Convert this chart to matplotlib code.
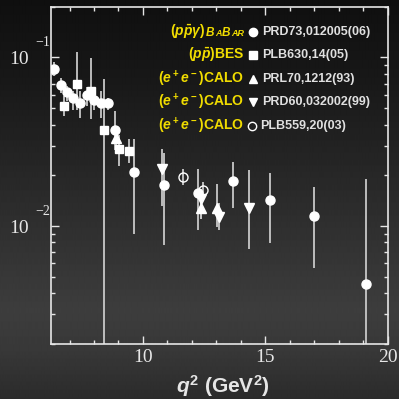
import numpy as np
import matplotlib.pyplot as plt
from matplotlib.offsetbox import TextArea, HPacker, AnnotationBbox

plt.rcParams['mathtext.fontset'] = 'custom'
plt.rcParams['mathtext.rm'] = 'Liberation Sans:bold'
plt.rcParams['mathtext.it'] = 'Liberation Sans:italic:bold'
plt.rcParams['mathtext.bf'] = 'Liberation Sans:bold'

# (p pbar gamma) BaBar
babar_q2 = [6.37, 6.64, 6.90, 7.15, 7.43, 7.70, 7.98, 8.27, 8.56, 8.86,
            9.62, 10.88, 12.25, 13.69, 15.20, 16.99, 19.11]
babar_ff = [0.0857, 0.0686, 0.0626, 0.0572, 0.0535, 0.0598, 0.0557, 0.0535, 0.0535, 0.0370,
            0.0209, 0.0175, 0.0157, 0.0185, 0.01425, 0.0114, 0.00456]
babar_lo = [0.0772, 0.0618, 0.0549, 0.0490, 0.0438, 0.0513, 0.0490, 0.0438, 0.0490, 0.0284,
            0.00893, 0.00772, 0.00947, 0.01272, 0.00790, 0.00564, 0.0005]
babar_hi = [0.0934, 0.0758, 0.0680, 0.0629, 0.0629, 0.0668, 0.0601, 0.0629, 0.0575, 0.0484,
            0.0330, 0.0272, 0.0218, 0.0241, 0.0205, 0.0171, 0.0191]

# (p pbar) BES
bes_q2 = [6.78, 7.30, 7.86, 8.41, 9.01, 9.42]
bes_ff = [0.0518, 0.0692, 0.0632, 0.0373, 0.0287, 0.0277]
bes_lo = [0.0448, 0.0490, 0.0432, 0.0005, 0.0226, 0.0235]
bes_hi = [0.0588, 0.1075, 0.0991, 0.0744, 0.0349, 0.0326]

# (e+e-) CALO PRL70
prl70_q2 = [8.89, 12.38, 13.01]
prl70_ff = [0.0333, 0.0128, 0.0128]
prl70_lo = [0.0304, 0.01095, 0.00991]
prl70_hi = [0.0357, 0.0154, 0.0178]

# (e+e-) CALO PRD60
prd60_q2 = [10.77, 12.38, 13.10, 14.35]
prd60_ff = [0.0218, 0.0144, 0.01135, 0.0128]
prd60_lo = [0.01313, 0.01095, 0.00947, 0.00734]
prd60_hi = [0.0287, 0.0165, 0.01374, 0.0216]

# (e+e-) CALO PLB559
plb559_q2 = [11.63, 12.44]
plb559_ff = [0.0195, 0.0163]
plb559_lo = [0.0175, 0.01438]
plb559_hi = [0.0218, 0.0182]

ref_labels = ['PRD73,012005(06)', 'PLB630,14(05)', 'PRL70,1212(93)',
              'PRD60,032002(99)', 'PLB559,20(03)']

fig = plt.figure(figsize=(3.99, 3.99), dpi=100)

# dark gradient background
bg = fig.add_axes([0, 0, 1, 1], zorder=-10)
rows = np.arange(399)
shade = np.interp(rows, [0, 80, 160, 240, 310, 350, 399],
                  [0.06, 0.095, 0.145, 0.195, 0.24, 0.22, 0.17])
bg.imshow(np.repeat(shade[:, None], 2, axis=1), cmap='gray', vmin=0, vmax=1,
          aspect='auto', extent=[0, 1, 0, 1], interpolation='bilinear')
bg.axis('off')

ax = fig.add_axes([0.127, 0.138, 0.8446, 0.8454])
ax.set_facecolor('none')
ax.set_yscale('log')
ax.set_xlim(6.23, 20)
ax.set_ylim(0.002, 0.2)

ecol = '#c8c8c8'
fg = '#e6e6e6'


def draw(q2, ff, lo, hi, **kw):
    yerr = [np.array(ff) - np.array(lo), np.array(hi) - np.array(ff)]
    ax.errorbar(q2, ff, yerr=yerr, fmt='none', ecolor=ecol, elinewidth=1.3, capsize=0, zorder=2)
    ax.plot(q2, ff, linestyle='none', zorder=3, **kw)


draw(bes_q2, bes_ff, bes_lo, bes_hi, marker='s', ms=6, color='white')
draw(prl70_q2, prl70_ff, prl70_lo, prl70_hi, marker='^', ms=6.5, color='white')
draw(prd60_q2, prd60_ff, prd60_lo, prd60_hi, marker='v', ms=6.5, color='white')
draw(plb559_q2, plb559_ff, plb559_lo, plb559_hi, marker='o', ms=6.5, mfc='none', mec='white', mew=1)
draw(babar_q2, babar_ff, babar_lo, babar_hi, marker='o', ms=6.5, color='white')

# axes styling
for s in ax.spines.values():
    s.set_color(fg)
    s.set_linewidth(1.2)
ax.tick_params(which='both', direction='in', top=True, right=True, colors=fg, width=1)
ax.tick_params(which='major', length=6)
ax.tick_params(which='minor', length=3)
ax.set_xticks([10, 15, 20])
ax.set_xticks(range(7, 20), minor=True)
ax.set_xticklabels(['10', '15', '20'], family='Liberation Serif', fontsize=14, color=fg)
ax.tick_params(axis='x', pad=4)
ax.set_yticks([0.01, 0.1], labels=['10', '10'], family='Liberation Serif', fontsize=14, color=fg)
ax.tick_params(axis='y', pad=16)
for yv, sup in [(0.1, '\u22121'), (0.01, '\u22122')]:
    ax.annotate(sup, xy=(0, yv), xycoords=('axes fraction', 'data'),
                xytext=(-0.5, 10.5), textcoords='offset points', ha='right', va='center',
                family='Liberation Serif', fontsize=10, color=fg, annotation_clip=False)

ax.set_xlabel(r'$q^2$ (GeV$^{\mathbf{2}}$)', family='Liberation Sans', fontweight='bold',
              fontsize=15, color=fg)
ax.xaxis.label.set_va('baseline')
ax.xaxis.set_label_coords(0.51, -0.146)

# legend block
yel = '#f0dc00'
row_y = [0.926, 0.857, 0.786, 0.717, 0.646]
x_right = 0.574
x_mark = 0.601
x_ref = 0.626

sc = dict(color=yel, family='Liberation Sans', weight='bold', style='italic')
babar_parts = [
    TextArea(r'$(p\bar{p}\gamma)$', textprops=dict(color=yel, size=10)),
    TextArea('B', textprops=dict(size=8.5, **sc)),
    TextArea('A', textprops=dict(size=6.5, **sc)),
    TextArea('B', textprops=dict(size=8.5, **sc)),
    TextArea('AR', textprops=dict(size=6.5, **sc)),
]
pack = HPacker(children=babar_parts, align='baseline', pad=0, sep=0.5)
ab = AnnotationBbox(pack, (x_right, row_y[0]), xycoords='axes fraction', box_alignment=(1, 0.5),
                    frameon=False, pad=0, annotation_clip=False)
ax.add_artist(ab)

left_labels = [r'$(p\bar{p})$BES', r'$(e^+e^-)$CALO', r'$(e^+e^-)$CALO', r'$(e^+e^-)$CALO']
for lab, yv in zip(left_labels, row_y[1:]):
    ax.text(x_right, yv, lab, transform=ax.transAxes, ha='right', va='center',
            family='Liberation Sans', fontweight='bold', fontsize=10, color=yel)

mk_styles = [dict(marker='o', ms=6, color='white'),
             dict(marker='s', ms=5.5, color='white'),
             dict(marker='^', ms=6, color='white'),
             dict(marker='v', ms=6, color='white'),
             dict(marker='o', ms=6, mfc='none', mec='white', mew=1)]
for i, (lab, yv, st) in enumerate(zip(ref_labels, row_y, mk_styles)):
    xm = x_mark if i < 4 else x_mark - 0.003
    xr = x_ref if i < 4 else x_ref - 0.005
    ax.plot([xm], [yv], transform=ax.transAxes, clip_on=False, linestyle='none', **st)
    ax.text(xr, yv, lab, transform=ax.transAxes, ha='left', va='center',
            family='Liberation Sans', fontweight='bold', fontsize=9, color='#e0e0e0')

fig.savefig('out.png', dpi=100, facecolor=fig.get_facecolor())
